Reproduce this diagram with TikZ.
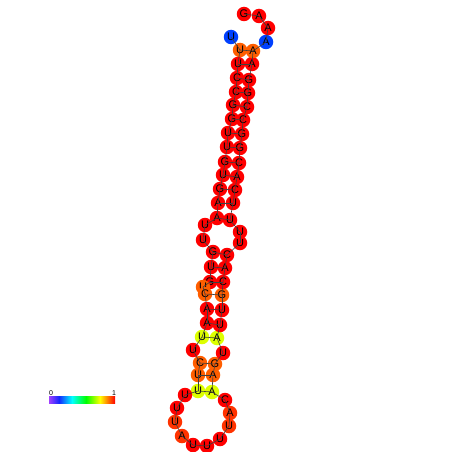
\documentclass[tikz,border=0pt]{standalone}
\usepackage{fontspec}
\setmainfont{Liberation Sans}

\definecolor{pRed}{HTML}{FF0000}
\definecolor{pRedOr}{HTML}{FF3300}
\definecolor{pOrange}{HTML}{FF5E00}
\definecolor{pYellow}{HTML}{DDFF00}
\definecolor{pBlue}{HTML}{0040FF}
\definecolor{pViolet}{HTML}{A040FF}
\definecolor{pBar}{HTML}{1428FF}

\tikzset{
  base/.style={circle, inner sep=0pt, minimum size=14.5pt, font=\fontsize{11}{11}\selectfont},
  bond/.style={draw=black!75, line width=0.6pt}
}

\begin{document}
\begin{tikzpicture}[x=1pt, y=-1pt]
\useasboundingbox (0,0) rectangle (452,452);

% Basi (numero/lettera/x/y/colore)
\foreach \n/\b/\x/\y/\c in {
  1/U/231/37/pBlue, 2/U/240/50/pOrange, 3/U/238/64/pRed, 4/C/237/78/pRed,
  5/C/236/92/pRed, 6/G/233/105/pRed, 7/G/232/119/pRed, 8/U/228/133/pRed,
  9/U/227/147/pRed, 10/G/225/162/pRed, 11/U/223/175/pRed, 12/G/220/189/pRed,
  13/A/218/203/pRed, 14/A/217/218/pRed, 15/U/205/225/pRed, 16/U/203/240/pRed,
  17/G/213/252/pRed, 18/U/211/267/pRed, 19/G/210/282/pRed, 20/U/203/287/pOrange,
  21/C/205/294/pOrange, 22/A/207/309/pRed, 23/A/207/323/pRed, 24/U/202/337/pYellow,
  25/U/193/350/pRed, 26/C/200/363/pOrange, 27/U/198/375/pOrange, 28/U/198/391/pYellow,
  29/U/185/395/pRed, 30/U/177/408/pRed, 31/U/175/422/pRedOr, 32/A/182/436/pRedOr,
  33/U/193/445/pRed, 34/U/207/446/pRed, 35/U/220/439/pRed, 36/U/229/426/pRedOr,
  37/A/230/413/pRedOr, 38/C/225/400/pRed, 39/A/212/392/pYellow, 40/A/213/375/pOrange,
  41/G/215/364/pOrange, 42/U/223/353/pRed, 43/A/217/338/pYellow, 44/U/220/325/pRed,
  45/U/222/310/pRed, 46/G/222/295/pOrange, 47/C/223/282/pRed, 48/A/225/268/pRed,
  49/C/227/255/pRed, 50/U/240/243/pRed, 51/U/240/232/pRed, 52/U/230/220/pRed,
  53/U/233/203/pRed, 54/C/235/190/pRed, 55/A/237/177/pRed, 56/C/239/163/pRed,
  57/G/240/148/pRed, 58/G/242/134/pRed, 59/C/243/120/pRed, 60/C/247/107/pRed,
  61/G/248/93/pRed, 62/G/249/80/pRed, 63/A/252/64/pRed, 64/A/253/51/pOrange,
  65/A/266/42/pBlue, 66/A/268/28/pRed, 67/A/259/16/pRed, 68/G/244/14/pRed}
  \node[base, fill=\c] (n\n) at (\x,\y) {\b};

% Scheletro
\foreach \i [evaluate=\i as \j using int(\i+1)] in {1,...,67}
  \draw[bond] (n\i.center) -- (n\j.center);

% Coppie
\foreach \a/\b in {2/64, 3/63, 4/62, 5/61, 6/60, 7/59, 8/58, 9/57, 10/56,
  11/55, 12/54, 13/53, 14/52, 17/49, 18/48, 19/47, 21/46, 22/45, 23/44,
  24/43, 26/41, 27/40, 28/39}
  \draw[bond] (n\a.center) -- (n\b.center);

% Scala colori
\shade[left color=pViolet, right color=pBar] (49,396) rectangle (59,403);
\shade[left color=pBar, right color=cyan] (59,396) rectangle (72,403);
\shade[left color=cyan, right color=green] (72,396) rectangle (86,403);
\shade[left color=green, right color=yellow] (86,396) rectangle (100,403);
\shade[left color=yellow, right color=pRed] (100,396) rectangle (115,403);
\node[font=\fontsize{7}{7}\selectfont] (lzero) at (51,393) {0};
\node[font=\fontsize{7}{7}\selectfont] (lone) at (114,393) {1};
\end{tikzpicture}
\end{document}
